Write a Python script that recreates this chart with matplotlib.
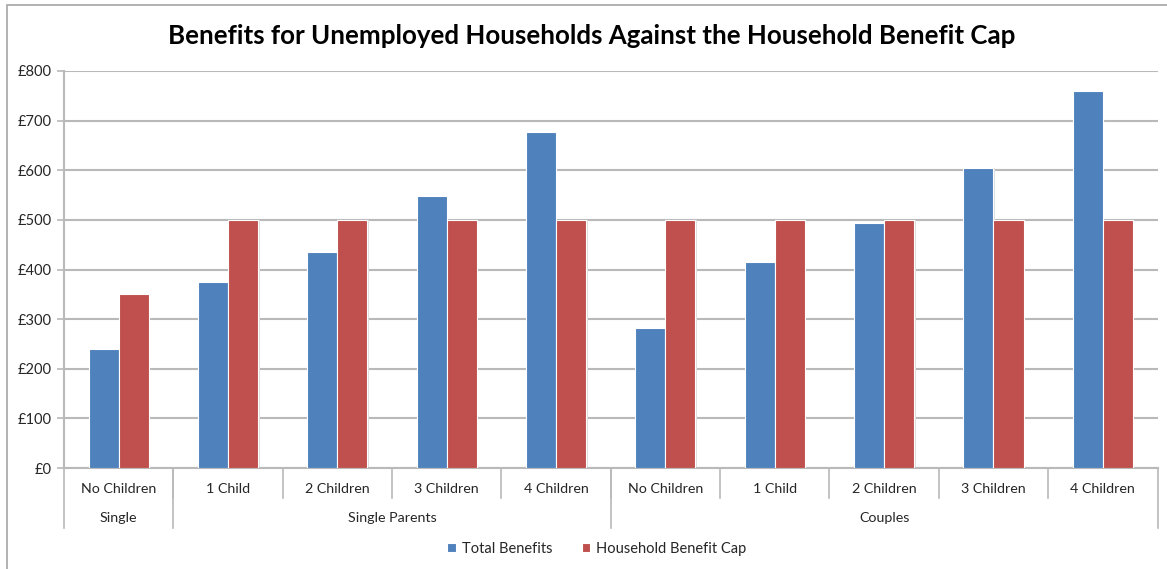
import numpy as np
import matplotlib
matplotlib.use("Agg")
import matplotlib.pyplot as plt
from matplotlib.lines import Line2D
from matplotlib.patches import Rectangle
from matplotlib.transforms import blended_transform_factory

# --- data ---
groups = ["Single", "Single Parents", "Couples"]
group_sizes = [1, 4, 5]
categories = ["No Children", "1 Child", "2 Children", "3 Children", "4 Children",
              "No Children", "1 Child", "2 Children", "3 Children", "4 Children"]
total_benefits = [240, 375, 436, 548, 677, 283, 416, 493, 604, 759]
benefit_cap = [350, 500, 500, 500, 500, 500, 500, 500, 500, 500]
yticks = [0, 100, 200, 300, 400, 500, 600, 700, 800]

BLUE = "#4F81BD"
RED = "#C0504D"
GRID = "#B9B9B9"
TXT = "#262626"

plt.rcParams["font.family"] = ["Lato", "DejaVu Sans"]

W, H = 1167, 569
fig = plt.figure(figsize=(W / 100, H / 100), dpi=100)

def fy(px):
    return 1 - px / H

# chart border (only left and top visible in the screenshot)
fig.patches.append(Rectangle((7 / W, -0.1), 1.2, fy(5) + 0.1, transform=fig.transFigure,
                             fill=False, edgecolor="#A6A6A6", linewidth=1.2))

ax = fig.add_axes([64 / W, fy(468), (1157.5 - 64) / W, (468 - 71) / H])

x = np.arange(len(categories))
bw = 0.275
# faint shadow behind bars
for off, vals in [(-bw / 2, total_benefits), (bw / 2, benefit_cap)]:
    ax.bar(x + off + 0.01, vals, bw + 0.006, color="#DEDEDE", zorder=2)
ax.bar(x - bw / 2, total_benefits, bw, color=BLUE, edgecolor="white", linewidth=0.8,
       zorder=3, label="Total Benefits")
ax.bar(x + bw / 2, benefit_cap, bw, color=RED, edgecolor="white", linewidth=0.8,
       zorder=3, label="Household Benefit Cap")

ax.set_xlim(-0.5, len(categories) - 0.5)
ax.set_ylim(0, 800)
ax.set_yticks(yticks)
ax.set_yticklabels([f"£{v}" for v in yticks], fontsize=10.5, color=TXT)
ax.yaxis.grid(True, color=GRID, linewidth=1.5, zorder=0)
ax.set_axisbelow(True)
ax.tick_params(axis="y", length=5, width=1.2, color=GRID, pad=4)
ax.set_xticks([])
for s in ["top", "right"]:
    ax.spines[s].set_visible(False)
ax.spines["left"].set_color(GRID)
ax.spines["left"].set_linewidth(1.5)
ax.spines["bottom"].set_color(GRID)
ax.spines["bottom"].set_linewidth(1.5)

# multi-level category axis
tr = blended_transform_factory(ax.transData, fig.transFigure)
for i, lab in enumerate(categories):
    ax.text(i, fy(489), lab, transform=tr, ha="center", va="center", fontsize=10.3, color=TXT)
for i in range(1, len(categories)):
    ax.add_line(Line2D([i - 0.5, i - 0.5], [fy(468), fy(498)], transform=tr,
                       color=GRID, linewidth=1.2, clip_on=False))
start = -0.5
ax.add_line(Line2D([start, start], [fy(468), fy(528)], transform=tr,
                   color=GRID, linewidth=1.2, clip_on=False))
for g, n in zip(groups, group_sizes):
    end = start + n
    ax.text((start + end) / 2, fy(518), g, transform=tr, ha="center", va="center",
            fontsize=10.3, color=TXT)
    ax.add_line(Line2D([end, end], [fy(468), fy(528)], transform=tr,
                       color=GRID, linewidth=1.2, clip_on=False))
    start = end

fig.text(592 / W, fy(36), "Benefits for Unemployed Households Against the Household Benefit Cap",
         ha="center", va="center", fontsize=18.6, fontweight="bold", color="black")

fig.legend(loc="center", bbox_to_anchor=(597 / W, fy(549)), ncol=2, frameon=False,
           fontsize=10.5, handlelength=0.6, handleheight=0.6, handletextpad=0.4,
           columnspacing=2.0, labelcolor=TXT)

fig.savefig("out.png", dpi=100)
